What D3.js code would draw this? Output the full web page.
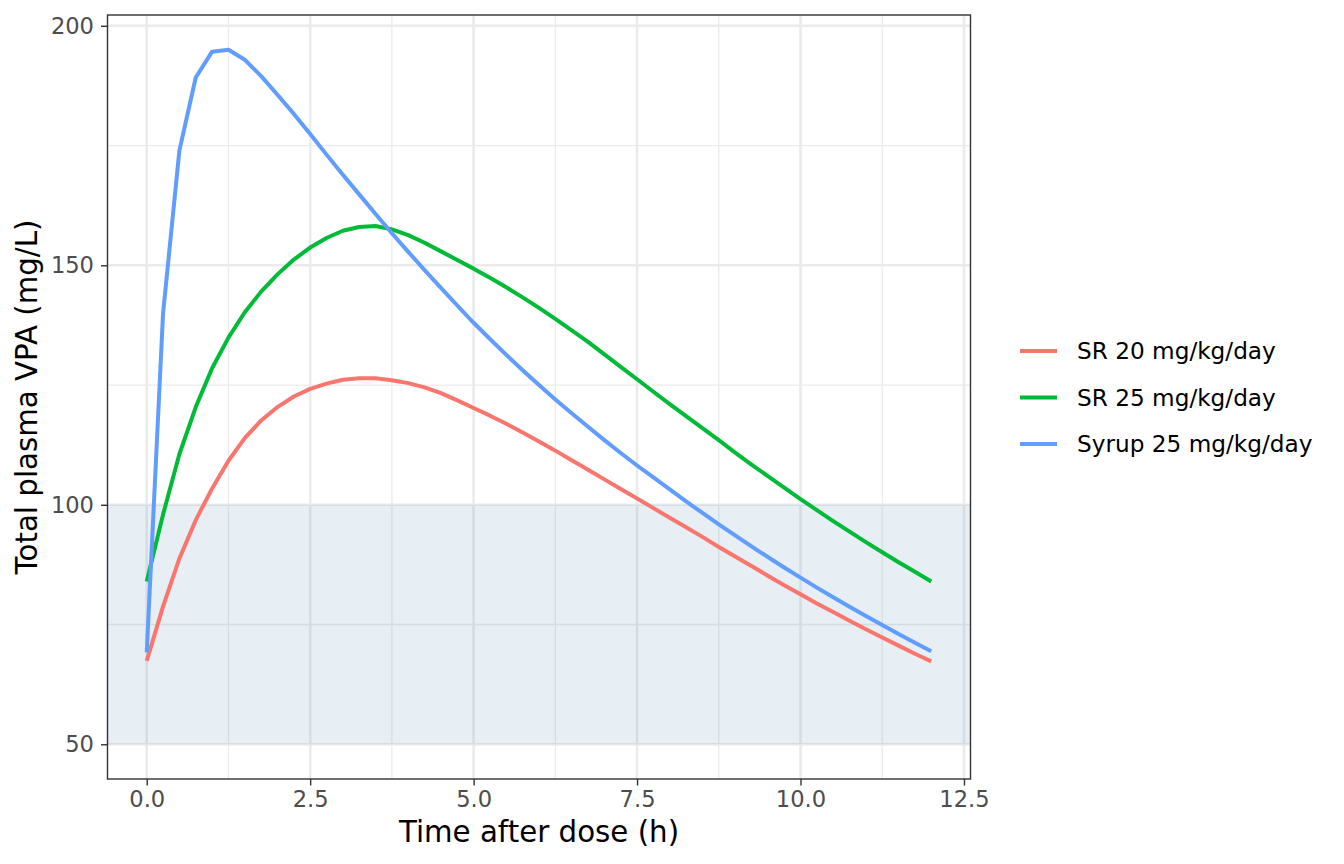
<!DOCTYPE html>
<html>
<head>
<meta charset="utf-8">
<script src="https://cdn.jsdelivr.net/npm/d3@7"></script>
<style>
  body { margin: 0; background: #fff; }
  svg { display: block; font-family: "DejaVu Sans", sans-serif; }
</style>
</head>
<body>
<svg id="chart" width="1344" height="864"></svg>
<script>
// time grid (h)
const times = [0, 0.25, 0.5, 0.75, 1, 1.25, 1.5, 1.75, 2, 2.25, 2.5, 2.75, 3, 3.25, 3.5, 3.75,
  4, 4.25, 4.5, 4.75, 5, 5.25, 5.5, 5.75, 6, 6.25, 6.5, 6.75, 7, 7.25, 7.5, 7.75,
  8, 8.25, 8.5, 8.75, 9, 9.25, 9.5, 9.75, 10, 10.25, 10.5, 10.75, 11, 11.25, 11.5, 11.75, 12];

const sr20 = [67.4, 78.8, 88.8, 96.8, 103.4, 109.2, 113.9, 117.6, 120.4, 122.6, 124.2, 125.3, 126.1, 126.4, 126.4, 126.0,
  125.4, 124.5, 123.3, 121.8, 120.2, 118.6, 116.9, 115.1, 113.2, 111.3, 109.3, 107.3, 105.3, 103.3, 101.3, 99.3,
  97.3, 95.3, 93.3, 91.2, 89.2, 87.2, 85.2, 83.2, 81.3, 79.4, 77.6, 75.8, 74.0, 72.3, 70.6, 68.9, 67.3];

const sr25 = [84.0, 98.0, 110.6, 120.4, 128.5, 134.9, 140.2, 144.5, 148.1, 151.2, 153.7, 155.7, 157.2, 158.0, 158.2, 157.5,
  156.3, 154.7, 152.9, 151.1, 149.3, 147.4, 145.4, 143.3, 141.1, 138.8, 136.4, 134.0, 131.4, 128.8, 126.2, 123.6,
  121.0, 118.5, 116.0, 113.5, 110.9, 108.4, 106.0, 103.6, 101.2, 98.9, 96.6, 94.4, 92.2, 90.1, 88.0, 86.0, 84.0];

const syrup25 = [69.2, 140.0, 174.0, 189.2, 194.6, 195.0, 192.9, 189.5, 185.6, 181.6, 177.4, 173.1, 168.9, 164.8, 160.7, 156.7,
  152.8, 149.0, 145.3, 141.6, 138.0, 134.6, 131.3, 128.1, 125.0, 122.0, 119.1, 116.3, 113.5, 110.8, 108.2, 105.7,
  103.2, 100.7, 98.3, 95.9, 93.6, 91.3, 89.1, 86.9, 84.8, 82.7, 80.7, 78.7, 76.8, 74.9, 73.0, 71.2, 69.4];

const groups = ["SR 20 mg/kg/day", "SR 25 mg/kg/day", "Syrup 25 mg/kg/day"];
const colors = ["#F8766D", "#00BA38", "#619CFF"];
const seriesValues = [sr20, sr25, syrup25];

// therapeutic range band
const band = [50, 100];

const xTicks = [0, 2.5, 5, 7.5, 10, 12.5];
const xMinor = [1.25, 3.75, 6.25, 8.75, 11.25];
const yTicks = [50, 100, 150, 200];
const yMinor = [75, 125, 175];

const series = groups.map((g, i) => ({
  name: g,
  color: colors[i],
  values: times.map((t, j) => ({t, v: seriesValues[i][j]}))
}));

const svg = d3.select("#chart");
const panel = {left: 107.5, right: 970.5, top: 15, bottom: 779};

const xr = d3.extent(times);
const xPad = (xr[1] - xr[0]) * 0.05;
const x = d3.scaleLinear()
    .domain([xr[0] - xPad, xr[1] + xPad])
    .range([panel.left, panel.right]);

const lo = Math.min(band[0], d3.min(seriesValues.flat()));
const hi = Math.max(band[1], d3.max(seriesValues.flat()));
const yPad = (hi - lo) * 0.05;
const y = d3.scaleLinear()
    .domain([lo - yPad, hi + yPad])
    .range([panel.bottom, panel.top]);

// grid
const grid = svg.append("g");
grid.selectAll(".xminor").data(xMinor).join("line")
    .attr("x1", d => x(d)).attr("x2", d => x(d))
    .attr("y1", panel.top).attr("y2", panel.bottom)
    .attr("stroke", "#EBEBEB").attr("stroke-width", 1.3);
grid.selectAll(".yminor").data(yMinor).join("line")
    .attr("y1", d => y(d)).attr("y2", d => y(d))
    .attr("x1", panel.left).attr("x2", panel.right)
    .attr("stroke", "#EBEBEB").attr("stroke-width", 1.3);
grid.selectAll(".xmajor").data(xTicks).join("line")
    .attr("x1", d => x(d)).attr("x2", d => x(d))
    .attr("y1", panel.top).attr("y2", panel.bottom)
    .attr("stroke", "#EBEBEB").attr("stroke-width", 2.6);
grid.selectAll(".ymajor").data(yTicks).join("line")
    .attr("y1", d => y(d)).attr("y2", d => y(d))
    .attr("x1", panel.left).attr("x2", panel.right)
    .attr("stroke", "#EBEBEB").attr("stroke-width", 2.6);

// band
svg.append("rect")
    .attr("x", panel.left)
    .attr("width", panel.right - panel.left)
    .attr("y", y(band[1]))
    .attr("height", y(band[0]) - y(band[1]))
    .attr("fill", "steelblue")
    .attr("fill-opacity", 0.13);

// lines
const line = d3.line().x(d => x(d.t)).y(d => y(d.v));
svg.append("g")
  .selectAll("path")
  .data(series)
  .join("path")
    .attr("d", d => line(d.values))
    .attr("fill", "none")
    .attr("stroke", d => d.color)
    .attr("stroke-width", 4)
    .attr("stroke-linejoin", "round");

// panel border
svg.append("rect")
    .attr("x", panel.left).attr("y", panel.top)
    .attr("width", panel.right - panel.left)
    .attr("height", panel.bottom - panel.top)
    .attr("fill", "none")
    .attr("stroke", "#333333")
    .attr("stroke-width", 1.4);

// axes
const xAxis = svg.append("g")
    .attr("transform", `translate(0,${panel.bottom})`)
    .call(d3.axisBottom(x).tickValues(xTicks).tickFormat(d3.format(".1f")).tickSize(6.5).tickPadding(5))
    .call(g => g.select(".domain").remove());
xAxis.selectAll(".tick line").attr("stroke", "#333333").attr("stroke-width", 1.4);
xAxis.selectAll(".tick text").attr("fill", "#4D4D4D").attr("font-size", 22.6)
    .attr("font-family", "DejaVu Sans");

const yAxis = svg.append("g")
    .attr("transform", `translate(${panel.left},0)`)
    .call(d3.axisLeft(y).tickValues(yTicks).tickSize(6.5).tickPadding(7))
    .call(g => g.select(".domain").remove());
yAxis.selectAll(".tick line").attr("stroke", "#333333").attr("stroke-width", 1.4);
yAxis.selectAll(".tick text").attr("fill", "#4D4D4D").attr("font-size", 22.6)
    .attr("font-family", "DejaVu Sans");

// axis titles
svg.append("text")
    .attr("x", (panel.left + panel.right) / 2)
    .attr("y", 842)
    .attr("text-anchor", "middle")
    .attr("font-size", 29.3)
    .attr("fill", "#000")
    .text("Time after dose (h)");

svg.append("text")
    .attr("transform", `translate(37,${(panel.top + panel.bottom) / 2}) rotate(-90)`)
    .attr("text-anchor", "middle")
    .attr("font-size", 29.3)
    .attr("fill", "#000")
    .text("Total plasma VPA (mg/L)");

// legend
const legend = svg.append("g")
  .selectAll("g")
  .data(series)
  .join("g")
    .attr("transform", (d, i) => `translate(1020,${351 + i * 46.5})`);
legend.append("line")
    .attr("x1", 0).attr("x2", 37)
    .attr("stroke", d => d.color)
    .attr("stroke-width", 4);
legend.append("text")
    .attr("x", 57)
    .attr("dy", "0.35em")
    .attr("font-size", 23.2)
    .attr("fill", "#000")
    .text(d => d.name);
</script>
</body>
</html>
